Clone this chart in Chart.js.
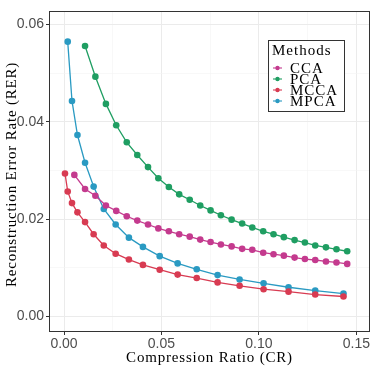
<!DOCTYPE html>
<html>
<head>
<meta charset="utf-8">
<script src="https://cdn.jsdelivr.net/npm/chart.js@4"></script>
<style>
  html, body { margin: 0; padding: 0; background: #fff; }
  #wrap { width: 374px; height: 374px; }
</style>
</head>
<body>
<div id="wrap"><canvas id="chart" width="374" height="374"></canvas></div>
<script>
const methods = ["CCA", "PCA", "MCCA", "MPCA"];
const colors = ["#c43a8e", "#1f9e62", "#d83b52", "#2a9ac2"];

const ccaX = [0.0053, 0.0108, 0.0161, 0.0215, 0.0268, 0.0322, 0.0376, 0.0431, 0.0484, 0.0538, 0.0591, 0.0645, 0.0699, 0.0752, 0.0805, 0.0860, 0.0914, 0.0966, 0.1022, 0.1075, 0.1128, 0.1183, 0.1236, 0.1289, 0.1344, 0.1398, 0.1453];
const ccaY = [0.0291, 0.0262, 0.0248, 0.0228, 0.0217, 0.0206, 0.0197, 0.0189, 0.0181, 0.0175, 0.0169, 0.0164, 0.0158, 0.0153, 0.0148, 0.0144, 0.0139, 0.0137, 0.0131, 0.0128, 0.0125, 0.0121, 0.0118, 0.0116, 0.0113, 0.0111, 0.0108];

const pcaX = [0.0108, 0.0161, 0.0215, 0.0268, 0.0322, 0.0376, 0.0431, 0.0484, 0.0538, 0.0591, 0.0645, 0.0699, 0.0752, 0.0805, 0.0860, 0.0914, 0.0966, 0.1022, 0.1075, 0.1128, 0.1183, 0.1236, 0.1289, 0.1344, 0.1398, 0.1453];
const pcaY = [0.0556, 0.0493, 0.0437, 0.0393, 0.0358, 0.0332, 0.0307, 0.0284, 0.0266, 0.0251, 0.0240, 0.0228, 0.0218, 0.0208, 0.0199, 0.0191, 0.0183, 0.0175, 0.0169, 0.0163, 0.0157, 0.0152, 0.0146, 0.0142, 0.0138, 0.0134];

const mccaX = [0.0005, 0.0019, 0.0041, 0.0069, 0.0108, 0.0152, 0.0204, 0.0265, 0.0333, 0.0405, 0.0491, 0.0583, 0.0681, 0.0788, 0.0901, 0.1024, 0.1152, 0.1289, 0.1434];
const mccaY = [0.0294, 0.0257, 0.0233, 0.0214, 0.0194, 0.0169, 0.0146, 0.0129, 0.0117, 0.0106, 0.0096, 0.0086, 0.0079, 0.0070, 0.0063, 0.0056, 0.0051, 0.0045, 0.0041];

const mpcaX = [0.0019, 0.0041, 0.0069, 0.0108, 0.0152, 0.0204, 0.0265, 0.0333, 0.0405, 0.0491, 0.0583, 0.0681, 0.0788, 0.0901, 0.1024, 0.1152, 0.1289, 0.1434];
const mpcaY = [0.0565, 0.0443, 0.0373, 0.0316, 0.0267, 0.0221, 0.0189, 0.0162, 0.0143, 0.0124, 0.0109, 0.0097, 0.0085, 0.0076, 0.0068, 0.0060, 0.0053, 0.0047];

const xMajor = [0, 0.05, 0.10, 0.15];
const xMinor = [0.025, 0.075, 0.125];
const yMajor = [0, 0.02, 0.04, 0.06];
const yMinor = [0.01, 0.03, 0.05];

const seriesX = [ccaX, pcaX, mccaX, mpcaX];
const seriesY = [ccaY, pcaY, mccaY, mpcaY];

const serif = "'Liberation Serif', 'DejaVu Serif', serif";
const sans = "'Liberation Sans', Arial, sans-serif";

function isIn(list, v) {
  return list.some((m) => Math.abs(m - v) < 1e-9);
}

const datasets = methods.map((name, i) => ({
  label: name,
  data: seriesX[i].map((x, j) => ({ x: x, y: seriesY[i][j] })),
  borderColor: colors[i],
  backgroundColor: colors[i],
  borderWidth: 1.3,
  pointRadius: 3.3,
  pointBorderWidth: 0,
  showLine: true,
}));

// panel border, axis titles and the inset legend
const decor = {
  id: "decor",
  afterDraw(chart) {
    const ctx = chart.ctx;
    const a = chart.chartArea;
    ctx.save();
    ctx.strokeStyle = "#333";
    ctx.lineWidth = 1;
    ctx.strokeRect(a.left + 0.5, a.top + 0.5, a.right - a.left - 1, a.bottom - a.top - 1);

    ctx.fillStyle = "#000";
    ctx.font = "15px " + serif;
    ctx.letterSpacing = "0.8px";
    ctx.textAlign = "center";
    ctx.textBaseline = "alphabetic";
    ctx.fillText("Compression Ratio (CR)", (a.left + a.right) / 2, 362);

    ctx.save();
    ctx.translate(16, (a.top + a.bottom) / 2 + 3);
    ctx.rotate(-Math.PI / 2);
    ctx.fillText("Reconstruction Error Rate (RER)", 0, 0);
    ctx.restore();

    // legend box
    const bx = 268, by = 40, bw = 76, bh = 71;
    ctx.fillStyle = "#fff";
    ctx.fillRect(bx, by, bw, bh);
    ctx.strokeStyle = "#333";
    ctx.strokeRect(bx + 0.5, by + 0.5, bw, bh);
    ctx.fillStyle = "#000";
    ctx.textAlign = "left";
    ctx.letterSpacing = "1px";
    ctx.fillText("Methods", 272, 55);
    methods.forEach((name, i) => {
      const cy = 68 + i * 11;
      ctx.strokeStyle = colors[i];
      ctx.lineWidth = 1.1;
      ctx.beginPath();
      ctx.moveTo(273, cy);
      ctx.lineTo(282, cy);
      ctx.stroke();
      ctx.fillStyle = colors[i];
      ctx.beginPath();
      ctx.arc(277.5, cy, 2.2, 0, Math.PI * 2);
      ctx.fill();
      ctx.fillStyle = "#000";
      ctx.fillText(name, 290, cy + 5);
    });
    ctx.restore();
  },
};

function gridColor(ctx, major, minor) {
  const v = ctx.tick ? ctx.tick.value : null;
  if (v === null) return "rgba(0,0,0,0)";
  if (isIn(major, v)) return "#ebebeb";
  if (isIn(minor, v)) return "#f3f3f3";
  return "rgba(0,0,0,0)";
}

new Chart(document.getElementById("chart"), {
  type: "scatter",
  data: { datasets: datasets },
  plugins: [decor],
  options: {
    responsive: false,
    animation: false,
    layout: { padding: { left: 0, right: 4, top: 11, bottom: 0 } },
    plugins: { legend: { display: false }, tooltip: { enabled: false } },
    scales: {
      x: {
        type: "linear",
        min: -0.0077,
        max: 0.157,
        afterBuildTicks: (s) => {
          s.ticks = xMajor.concat(xMinor).sort((p, q) => p - q).map((v) => ({ value: v }));
        },
        afterFit: (s) => { s.height = 42; },
        border: { display: false },
        grid: {
          color: (c) => gridColor(c, xMajor, xMinor),
          lineWidth: (c) => (c.tick && isIn(xMajor, c.tick.value) ? 1 : 0.6),
          tickColor: (c) => (c.tick && isIn(xMajor, c.tick.value) ? "#333" : "rgba(0,0,0,0)"),
          tickLength: 3,
          drawTicks: true,
        },
        ticks: {
          autoSkip: false,
          maxRotation: 0,
          padding: 1,
          color: "#4d4d4d",
          font: { family: sans, size: 14 },
          callback: (v) => (isIn(xMajor, v) ? v.toFixed(2) : ""),
        },
      },
      y: {
        min: -0.0032,
        max: 0.0628,
        afterBuildTicks: (s) => {
          s.ticks = yMajor.concat(yMinor).sort((p, q) => p - q).map((v) => ({ value: v }));
        },
        afterFit: (s) => { s.width = 49; },
        border: { display: false },
        grid: {
          color: (c) => gridColor(c, yMajor, yMinor),
          lineWidth: (c) => (c.tick && isIn(yMajor, c.tick.value) ? 1 : 0.6),
          tickColor: (c) => (c.tick && isIn(yMajor, c.tick.value) ? "#333" : "rgba(0,0,0,0)"),
          tickLength: 3,
          drawTicks: true,
        },
        ticks: {
          autoSkip: false,
          padding: 2,
          color: "#4d4d4d",
          font: { family: sans, size: 14 },
          callback: (v) => (isIn(yMajor, v) ? v.toFixed(2) : ""),
        },
      },
    },
  },
});
</script>
</body>
</html>
